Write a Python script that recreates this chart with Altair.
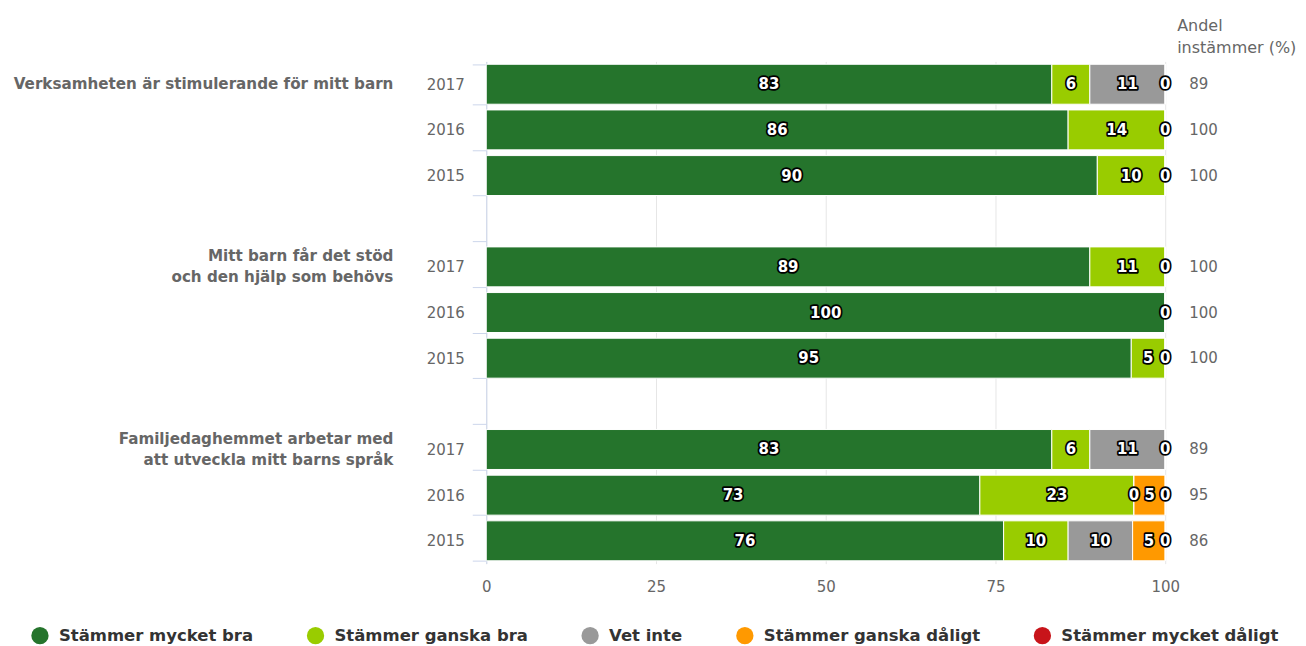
import altair as alt
import pandas as pd

# ---------------- data ----------------
questions = [
    "Verksamheten är stimulerande för mitt barn",
    "Mitt barn får det stöd\noch den hjälp som behövs",
    "Familjedaghemmet arbetar med\natt utveckla mitt barns språk",
]
years = ["2017", "2016", "2015"]
categories = [
    "Stämmer mycket bra",
    "Stämmer ganska bra",
    "Vet inte",
    "Stämmer ganska dåligt",
    "Stämmer mycket dåligt",
]
colors = ["#25742c", "#99cc00", "#999999", "#ff9900", "#c8141a"]

# one value per row: q1 2017, 2016, 2015, q2 2017, 2016, 2015, q3 2017, 2016, 2015
mycket_bra = [83.3, 85.7, 90.0, 88.9, 100.0, 95.0, 83.3, 72.7, 76.2]
ganska_bra = [5.6, 14.3, 10.0, 11.1, 0.0, 5.0, 5.6, 22.7, 9.5]
vet_inte = [11.1, 0.0, 0.0, 0.0, 0.0, 0.0, 11.1, 0.0, 9.5]
ganska_daligt = [0.0, 0.0, 0.0, 0.0, 0.0, 0.0, 0.0, 4.6, 4.8]
mycket_daligt = [0.0, 0.0, 0.0, 0.0, 0.0, 0.0, 0.0, 0.0, 0.0]
header_text = "Andel\ninstämmer (%)"

series = [mycket_bra, ganska_bra, vet_inte, ganska_daligt, mycket_daligt]

# ---------------- tables ----------------
row_keys = []
row_domain = []
for qi in range(len(questions)):
    for y in years:
        row_keys.append(f"{qi}_{y}")
        row_domain.append(f"{qi}_{y}")
    if qi < len(questions) - 1:
        row_domain.append(f"g{qi}_")

recs = []
for ri, rk in enumerate(row_keys):
    cum = 0.0
    for ci, cat in enumerate(categories):
        v = series[ci][ri]
        start, end = cum, cum + v
        show = (v > 0) or (start < 99.95) or (ci == len(categories) - 1)
        recs.append(
            dict(row=rk, cat=cat, start=start, end=end, mid=(start + end) / 2,
                 label=str(int(v + 0.5)), show=show)
        )
        cum = end
bars_df = pd.DataFrame(recs)
labels_df = bars_df[bars_df["show"]]

andel_df = pd.DataFrame(
    dict(row=row_keys,
         andel=[str(int(mycket_bra[i] + ganska_bra[i] + 0.5)) for i in range(len(row_keys))])
)
q_df = pd.DataFrame(dict(
    row=[f"{qi}_2017" for qi in range(len(questions))],
    q=questions,
    nlines=[q.count("\n") + 1 for q in questions],
))
h_df = pd.DataFrame(dict(t=[header_text]))

FONT = "DejaVu Sans"
GRAY = "#666666"

y_enc = alt.Y(
    "row:N",
    scale=alt.Scale(domain=row_domain, paddingInner=0.125, paddingOuter=0.0625),
    axis=alt.Axis(
        title=None,
        labelExpr="split(datum.value, '_')[1]",
        tickBand="extent",
        tickColor="#ccd6eb",
        tickSize=14,
        domainColor="#ccd6eb",
        labelPadding=8,
        labelFontSize=15,
        labelColor=GRAY,
        labelFont=FONT,
        grid=False,
    ),
)
x_scale = alt.Scale(domain=[0, 100], nice=False)

bars = alt.Chart(bars_df).mark_bar(stroke="white", strokeWidth=1).encode(
    x=alt.X(
        "start:Q",
        scale=x_scale,
        axis=alt.Axis(
            title=None,
            values=[0, 25, 50, 75, 100],
            grid=True,
            gridColor="#e6e6e6",
            domain=False,
            ticks=False,
            labelFlush=False,
            labelPadding=16,
            labelFontSize=15,
            labelColor=GRAY,
            labelFont=FONT,
        ),
    ),
    x2="end:Q",
    y=y_enc,
    color=alt.Color(
        "cat:N",
        scale=alt.Scale(domain=categories, range=colors),
        legend=alt.Legend(
            title=None,
            orient="none",
            legendX=-456,
            legendY=566,
            direction="horizontal",
            columns=5,
            symbolType="circle",
            symbolSize=300,
            symbolStrokeWidth=0,
            symbolOpacity=1,
            labelFontSize=16.5,
            labelFontWeight="bold",
            labelColor="#333333",
            labelFont=FONT,
            labelOffset=10,
            labelLimit=0,
            columnPadding=53,
        ),
    ),
)

outline = alt.Chart(labels_df).mark_text(
    font=FONT, fontSize=15, fontWeight="bold", fill="#000000", stroke="#000000",
    strokeWidth=3.5, strokeJoin="round", baseline="middle", align="center",
).encode(x=alt.X("mid:Q", scale=x_scale), y=y_enc, text="label:N")

white = alt.Chart(labels_df).mark_text(
    font=FONT, fontSize=15, fontWeight="bold", fill="#ffffff",
    baseline="middle", align="center",
).encode(x=alt.X("mid:Q", scale=x_scale), y=y_enc, text="label:N")

andel = alt.Chart(andel_df).mark_text(
    font=FONT, fontSize=15, color=GRAY, align="left", baseline="middle",
).encode(x=alt.value(704), y=y_enc, text="andel:N")

q_one = alt.Chart(q_df).transform_filter("datum.nlines == 1").mark_text(
    font=FONT, fontSize=15.2, fontWeight="bold", color=GRAY, align="right",
    baseline="middle", lineBreak="\n", lineHeight=21,
).encode(x=alt.value(-93), y=y_enc, text="q:N")

q_two = alt.Chart(q_df).transform_filter("datum.nlines == 2").mark_text(
    font=FONT, fontSize=15.2, fontWeight="bold", color=GRAY, align="right",
    baseline="middle", lineBreak="\n", lineHeight=21, dy=-10.5,
).encode(x=alt.value(-93), y=y_enc, text="q:N")

header = alt.Chart(h_df).mark_text(
    font=FONT, fontSize=16, color=GRAY, align="left", baseline="middle",
    lineBreak="\n", lineHeight=22,
).encode(x=alt.value(692), y=alt.value(-35), text="t:N")

chart = (
    alt.layer(bars, outline, white, andel, q_one, q_two, header)
    .properties(
        width=680,
        height=503,
        autosize=alt.AutoSizeParams(type="none"),
        padding={"left": 479, "top": 53, "right": 133, "bottom": 86},
    )
    .configure_view(stroke=None)
)

chart.save("out.html", embed_options={"renderer": "svg", "actions": False})
